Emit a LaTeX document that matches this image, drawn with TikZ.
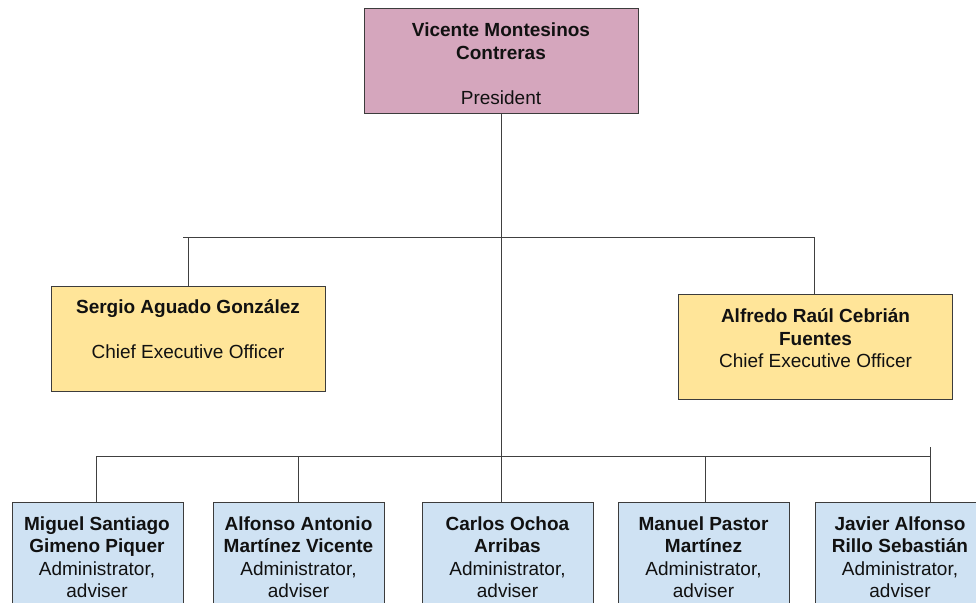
\documentclass[tikz,border=0pt]{standalone}
\usepackage{fontspec}
\setmainfont{Liberation Sans}
\definecolor{presfill}{HTML}{D5A6BD}
\definecolor{ceofill}{HTML}{FFE599}
\definecolor{admfill}{HTML}{CFE2F3}
\definecolor{edge}{HTML}{3C3C3C}
\definecolor{wire}{HTML}{404040}
\definecolor{ink}{HTML}{111111}
\begin{document}
\begin{tikzpicture}[x=1pt,y=-1pt,
  box/.style={draw=edge, line width=0.9pt, inner sep=0pt, anchor=north west},
  pres/.style={box, fill=presfill, minimum width=274pt, minimum height=105pt},
  ceo/.style={box, fill=ceofill, minimum width=274pt, minimum height=105pt},
  adm/.style={box, fill=admfill, minimum width=171pt, minimum height=130pt},
  txt/.style={align=center, text=ink, inner sep=0pt,
    font=\fontsize{19}{22.5}\selectfont},
  wire/.style={draw=wire, line width=0.9pt}]
\useasboundingbox (0,0) rectangle (976,602);
\clip (0,0) rectangle (976,602);

% boxes
\node[pres] (p) at (364,8) {};
\node[ceo] (c1) at (51,286) {};
\node[ceo] (c2) at (678,294) {};
\node[adm] (a1) at (12,502) {};
\node[adm] (a2) at (213,502) {};
\node[adm] (a3) at (422,502) {};
\node[adm] (a4) at (618,502) {};
\node[adm] (a5) at (815,502) {};

% labels
\node[txt] (pt) at (501,63.5) {\textbf{Vicente Montesinos}\\\textbf{Contreras}\\[22.5pt]President};
\node[txt] (c1t) at (188,329.5) {\textbf{Sergio Aguado González}\\[22.5pt]Chief Executive Officer};
\node[txt] (c2t) at (815.5,338.5) {\textbf{Alfredo Raúl Cebrián}\\\textbf{Fuentes}\\Chief Executive Officer};
\node[txt] (a1t) at (97,557) {\textbf{Miguel Santiago}\\\textbf{Gimeno Piquer}\\Administrator,\\adviser};
\node[txt] (a2t) at (298.5,557) {\textbf{Alfonso Antonio}\\\textbf{Martínez Vicente}\\Administrator,\\adviser};
\node[txt] (a3t) at (507.5,557) {\textbf{Carlos Ochoa}\\\textbf{Arribas}\\Administrator,\\adviser};
\node[txt] (a4t) at (703.5,557) {\textbf{Manuel Pastor}\\\textbf{Martínez}\\Administrator,\\adviser};
\node[txt] (a5t) at (900,557) {\textbf{Javier Alfonso}\\\textbf{Rillo Sebastián}\\Administrator,\\adviser};

% bus lines
\coordinate (ceoL) at (183,237);
\coordinate (ceoR) at (814,237);
\coordinate (admL) at (96,456);
\coordinate (admR) at (930,456);
\coordinate (admRtop) at (930,447);

% connectors
\draw[wire] (p.south -| 501,0) -- (501,456);
\draw[wire] (ceoL) -- (ceoR) -- (ceoR |- c2.north);
\draw[wire] (188,237) -- (c1.north -| 188,0);
\draw[wire] (admL) -- (admR);
\draw[wire] (admL) -- (admL |- a1.north);
\draw[wire] (298,456) -- (a2.north -| 298,0);
\draw[wire] (501,456) -- (a3.north -| 501,0);
\draw[wire] (705,456) -- (a4.north -| 705,0);
\draw[wire] (admRtop) -- (admRtop |- a5.north);
\end{tikzpicture}
\end{document}
